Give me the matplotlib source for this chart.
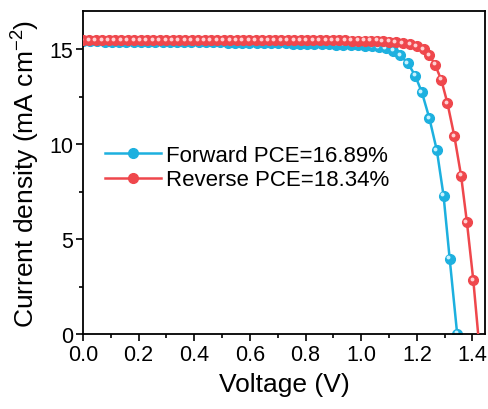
"""J-V curves, forward and reverse scan."""

import matplotlib
matplotlib.use("Agg")
import matplotlib.pyplot as plt
import matplotlib.transforms as mtransforms
from matplotlib.ticker import MultipleLocator, FormatStrFormatter

plt.rcParams["font.family"] = ["Liberation Sans", "DejaVu Sans"]
plt.rcParams["mathtext.default"] = "regular"

# forward scan
v_fwd = [0.000, 0.026, 0.052, 0.078, 0.104, 0.130, 0.156, 0.182, 0.208, 0.234,
         0.260, 0.286, 0.312, 0.338, 0.364, 0.390, 0.416, 0.442, 0.468, 0.494,
         0.520, 0.546, 0.572, 0.598, 0.624, 0.650, 0.676, 0.702, 0.728, 0.754,
         0.780, 0.806, 0.832, 0.858, 0.884, 0.910, 0.936, 0.962, 0.988, 1.014,
         1.040, 1.064, 1.088, 1.116, 1.140, 1.168, 1.194, 1.218, 1.245, 1.272,
         1.296, 1.318, 1.345]
j_fwd = [15.40, 15.40, 15.40, 15.39, 15.39, 15.39, 15.39, 15.38, 15.38, 15.38,
         15.38, 15.37, 15.37, 15.37, 15.36, 15.36, 15.36, 15.35, 15.35, 15.35,
         15.34, 15.34, 15.33, 15.33, 15.32, 15.32, 15.31, 15.31, 15.30, 15.29,
         15.28, 15.27, 15.26, 15.25, 15.24, 15.23, 15.22, 15.21, 15.19, 15.17,
         15.14, 15.10, 15.03, 14.91, 14.68, 14.25, 13.60, 12.73, 11.36, 9.66,
         7.29, 3.97, 0.00]

# reverse scan
v_rev = [0.000, 0.023, 0.046, 0.069, 0.092, 0.115, 0.138, 0.161, 0.184, 0.207,
         0.230, 0.253, 0.276, 0.299, 0.322, 0.345, 0.368, 0.391, 0.414, 0.437,
         0.460, 0.483, 0.506, 0.529, 0.552, 0.575, 0.598, 0.621, 0.644, 0.667,
         0.690, 0.713, 0.736, 0.759, 0.782, 0.805, 0.828, 0.851, 0.874, 0.897,
         0.920, 0.943, 0.966, 0.989, 1.012, 1.035, 1.057, 1.078, 1.101, 1.125,
         1.150, 1.176, 1.200, 1.224, 1.245, 1.266, 1.288, 1.310, 1.335, 1.359,
         1.380, 1.403, 1.426]
j_rev = [15.46, 15.46, 15.46, 15.46, 15.46, 15.46, 15.46, 15.46, 15.46, 15.46,
         15.46, 15.46, 15.46, 15.46, 15.46, 15.46, 15.46, 15.46, 15.46, 15.46,
         15.46, 15.46, 15.46, 15.46, 15.46, 15.46, 15.46, 15.46, 15.46, 15.46,
         15.46, 15.46, 15.46, 15.46, 15.46, 15.46, 15.45, 15.45, 15.45, 15.45,
         15.45, 15.45, 15.44, 15.44, 15.44, 15.43, 15.43, 15.42, 15.38, 15.35,
         15.30, 15.26, 15.15, 14.98, 14.68, 14.16, 13.37, 12.15, 10.40, 8.34,
         5.89, 2.83, -0.90]

labels = ["Forward PCE=16.89%", "Reverse PCE=18.34%"]
BLUE = "#1DB0DF"
RED = "#EF474C"


def ball_line(ax, fig, v, j, color, light, z):
    """Line with shaded-ball markers (a light dot shifted up-left)."""
    (line,) = ax.plot(v, j, "-o", color=color, lw=1.8, ms=7.0, mec=color,
                      mfc=color, zorder=z)
    shift = mtransforms.offset_copy(ax.transData, fig=fig, x=-1.1, y=1.1,
                                    units="points")
    (hl,) = ax.plot(v, j, "o", ls="none", color=light, ms=2.8, mec="none",
                    transform=shift, zorder=z + 0.1)
    return line, hl


fig = plt.figure(figsize=(4.89, 4.10), dpi=100)
ax = fig.add_axes([0.1697, 0.1829, 0.8221, 0.7878])

h_fwd = ball_line(ax, fig, v_fwd, j_fwd, BLUE, "#C8F2FF", 2)
h_rev = ball_line(ax, fig, v_rev, j_rev, RED, "#FFD0D2", 3)

ax.set_xlim(0, 1.445)
ax.set_ylim(0, 17)
ax.xaxis.set_major_locator(MultipleLocator(0.2))
ax.xaxis.set_minor_locator(MultipleLocator(0.1))
ax.yaxis.set_major_locator(MultipleLocator(5))
ax.yaxis.set_minor_locator(MultipleLocator(2.5))
ax.xaxis.set_major_formatter(FormatStrFormatter("%.1f"))
ax.tick_params(which="both", direction="out", width=1.2, labelsize=15.5,
               top=False, right=False, pad=2)
ax.tick_params(which="major", length=5)
ax.tick_params(which="minor", length=3)
for sp in ax.spines.values():
    sp.set_linewidth(1.3)

ax.set_xlabel("Voltage (V)", fontsize=19, labelpad=5)
ax.set_ylabel("Current density (mA cm$^{-2}$)", fontsize=19, labelpad=5)

ax.legend([h_fwd[0], h_rev[0]], labels, loc="center left",
          bbox_to_anchor=(0.005, 0.515), frameon=False, fontsize=16,
          handlelength=2.5, handletextpad=0.25, labelspacing=0.15,
          numpoints=1)

fig.savefig("out.png", dpi=100)
